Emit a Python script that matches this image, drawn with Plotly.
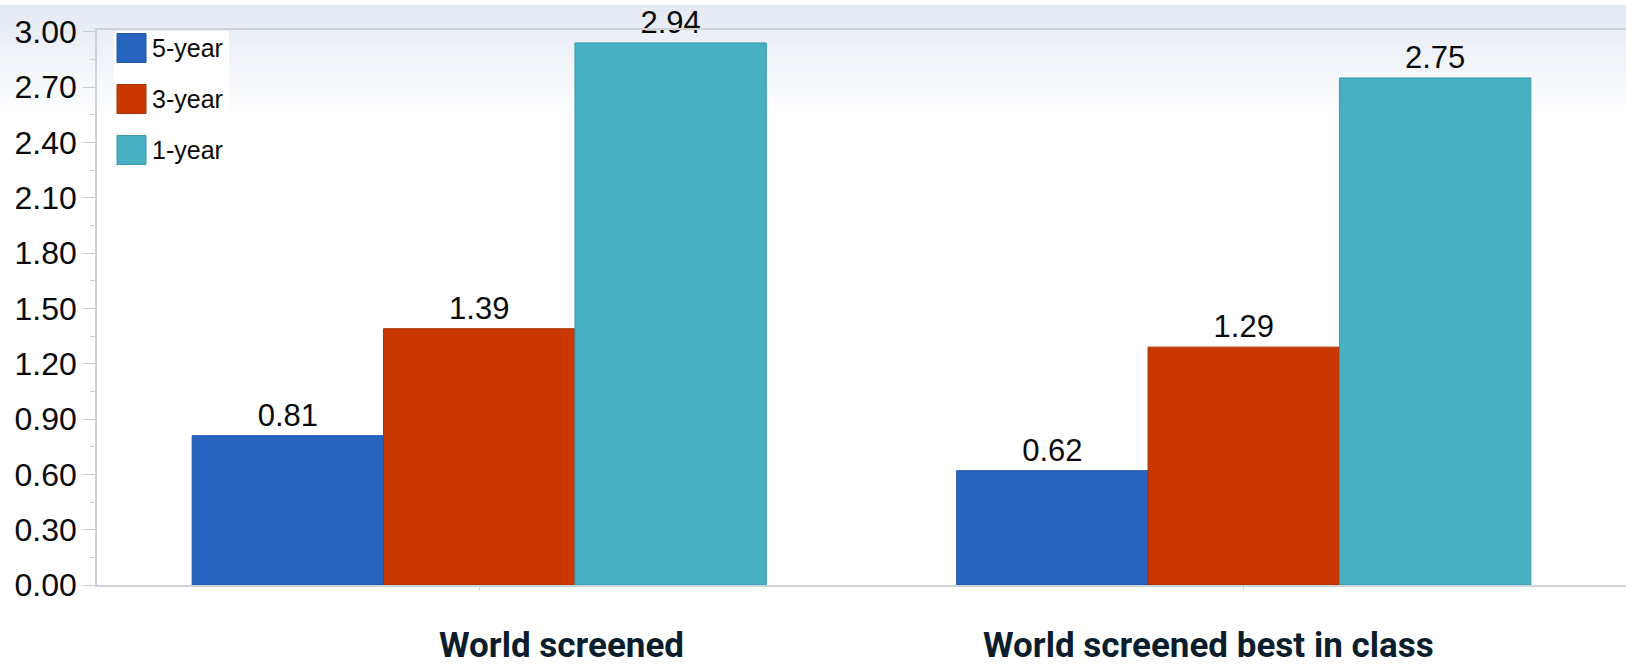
import plotly.graph_objects as go

categories = ["World screened", "World screened best in class"]
series_names = ["5-year", "3-year", "1-year"]
values_5y = [0.81, 0.62]
values_3y = [1.39, 1.29]
values_1y = [2.94, 2.75]
y_tick_vals = [0.0, 0.3, 0.6, 0.9, 1.2, 1.5, 1.8, 2.1, 2.4, 2.7, 3.0]

series_values = [values_5y, values_3y, values_1y]
fill_colors = ["#2764C0", "#C83800", "#47B0C2"]
line_colors = ["#1E55A8", "#A93000", "#3A9BAC"]

W, H = 1626, 665
L, R, T, B = 97, 0, 30, 80
PW, PH = W - L - R, H - T - B

def px_x(x):
    return (x - L) / PW

def px_y(y):
    return (H - B - y) / PH

fig = go.Figure()
for name, vals, fc, lc in zip(series_names, series_values, fill_colors, line_colors):
    fig.add_trace(go.Bar(
        x=categories, y=vals, name=name,
        marker=dict(color=fc, line=dict(color=lc, width=1)),
        text=[f"{v:.2f}" for v in vals], textposition="outside",
        textfont=dict(family="Liberation Sans, Arial", size=31, color="#0A0A0A"),
        cliponaxis=False, constraintext="none", showlegend=False,
    ))

shapes = []
# background gradient at the top
top_px, bot_px = 5, 118
c0 = (227, 232, 243)
nb = 30
for i in range(nb):
    y0 = top_px + (bot_px - top_px) * i / nb
    y1 = top_px + (bot_px - top_px) * (i + 1) / nb
    t = (i + 0.5) / nb
    col = tuple(int(round(c + (255 - c) * t)) for c in c0)
    shapes.append(dict(type="rect", xref="paper", yref="paper", layer="below",
                       x0=px_x(0), x1=1.0, y0=px_y(y1), y1=px_y(y0) + 0.0005,
                       fillcolor="rgb(%d,%d,%d)" % col, line=dict(width=0)))

# legend box
shapes.append(dict(type="rect", xref="paper", yref="paper", layer="above",
                   x0=px_x(114), x1=px_x(229), y0=px_y(176), y1=px_y(31),
                   fillcolor="white", line=dict(width=0)))
annotations = []
row_y = [48, 99, 150]
for name, fc, lc, ry in zip(series_names, fill_colors, line_colors, row_y):
    shapes.append(dict(type="rect", xref="paper", yref="paper", layer="above",
                       x0=px_x(117), x1=px_x(146), y0=px_y(ry + 14.5), y1=px_y(ry - 14.5),
                       fillcolor=fc, line=dict(color=lc, width=1)))
    annotations.append(dict(xref="paper", yref="paper", x=px_x(150), y=px_y(ry),
                            xanchor="left", yanchor="middle", showarrow=False, text=name,
                            font=dict(family="Liberation Sans, Arial", size=25, color="#0A0A0A")))

label_x = [561, 1208]
for cat, lx in zip(categories, label_x):
    annotations.append(dict(xref="paper", yref="paper", x=px_x(lx), y=px_y(645.5),
                            xanchor="center", yanchor="middle", showarrow=False,
                            text="<b>%s</b>" % cat,
                            font=dict(family="Roboto", size=35, color="#0B1E2D")))

fig.update_layout(
    width=W, height=H,
    margin=dict(l=L, r=R, t=T, b=B, pad=0),
    paper_bgcolor="white", plot_bgcolor="rgba(0,0,0,0)",
    barmode="group", bargap=0.249, bargroupgap=0,
    shapes=shapes, annotations=annotations,
    showlegend=False,
)
fig.update_xaxes(
    type="category", range=[-0.5, 1.5], showgrid=False,
    showline=True, linecolor="#CDD2D9", linewidth=2, mirror=True,
    ticks="outside", ticklen=4, tickcolor="#D5D8DD", showticklabels=False,
    zeroline=False,
)
fig.update_yaxes(
    range=[0, 3.01], showgrid=False, zeroline=False,
    tickmode="array", tickvals=y_tick_vals,
    ticktext=[f"{v:.2f}" for v in y_tick_vals],
    ticks="outside", ticklen=12, tickcolor="#C8CCD3", tickwidth=1,
    minor=dict(ticks="outside", ticklen=5, tickcolor="#C8CCD3", dtick=0.15, tick0=0),
    showline=True, linecolor="#CDD2D9", linewidth=1.5,
    tickfont=dict(family="Liberation Sans, Arial", size=32, color="#0A0A0A"),
    ticklabelstandoff=0,
)

fig.write_html("out.html")
